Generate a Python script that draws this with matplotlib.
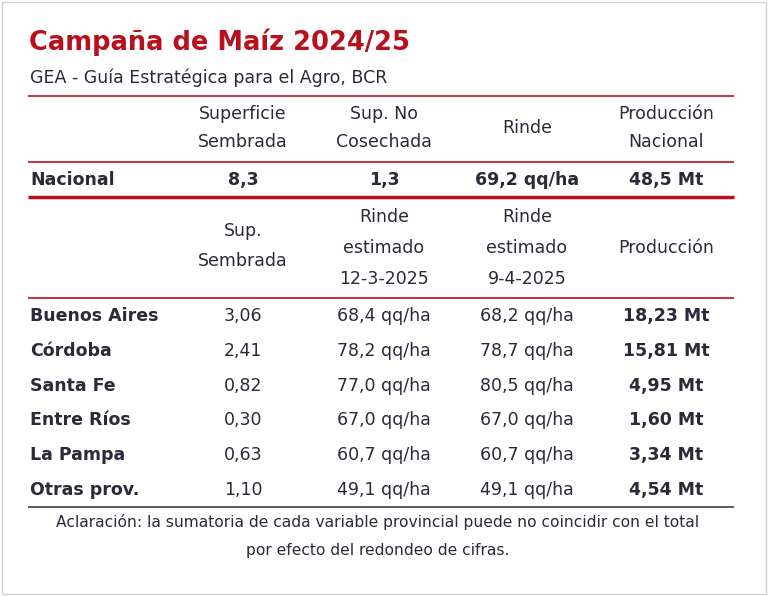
import matplotlib
matplotlib.use("Agg")
import matplotlib.pyplot as plt

title = "Campaña de Maíz 2024/25"
subtitle = "GEA - Guía Estratégica para el Agro, BCR"
nat_headers = ["Superficie\nSembrada", "Sup. No\nCosechada", "Rinde", "Producción\nNacional"]
nat_values = ["8,3", "1,3", "69,2 qq/ha", "48,5 Mt"]
prov_headers = ["Sup.\nSembrada", "Rinde\nestimado\n12-3-2025", "Rinde\nestimado\n9-4-2025", "Producción"]
provinces = ["Buenos Aires", "Córdoba", "Santa Fe", "Entre Ríos", "La Pampa", "Otras prov."]
sup_sembrada = ["3,06", "2,41", "0,82", "0,30", "0,63", "1,10"]
rinde_mar = ["68,4 qq/ha", "78,2 qq/ha", "77,0 qq/ha", "67,0 qq/ha", "60,7 qq/ha", "49,1 qq/ha"]
rinde_abr = ["68,2 qq/ha", "78,7 qq/ha", "80,5 qq/ha", "67,0 qq/ha", "60,7 qq/ha", "49,1 qq/ha"]
produccion = ["18,23 Mt", "15,81 Mt", "4,95 Mt", "1,60 Mt", "3,34 Mt", "4,54 Mt"]
note = "Aclaración: la sumatoria de cada variable provincial puede no coincidir con el total\npor efecto del redondeo de cifras."

RED = "#b8101c"
TXT = "#2a2a38"
fig = plt.figure(figsize=(7.68, 5.96), dpi=100)
ax = fig.add_axes([0, 0, 1, 1])
ax.set_xlim(0, 768); ax.set_ylim(596, 0); ax.axis("off")
ax.add_patch(plt.Rectangle((2, 2), 764, 592, fill=False, ec="#d0d0d0", lw=1))

ax.text(29, 42, title, color=RED, fontsize=18.5, fontweight="bold", va="center")
ax.text(30, 78, subtitle, color=TXT, fontsize=12.5, va="center")
X0, X1 = 28, 734
cols = [243, 384, 527, 666]
fs = 12.5
def hline(y, lw, c=RED):
    ax.plot([X0, X1], [y, y], color=c, lw=lw, solid_capstyle="butt")
hline(96, 1.2)
for x, h in zip(cols, nat_headers):
    ax.text(x, 128, h, ha="center", va="center", color=TXT, fontsize=fs, linespacing=1.7)
hline(162, 1.2)
ax.text(30, 180, "Nacional", ha="left", va="center", color=TXT, fontsize=fs, fontweight="bold")
for x, v in zip(cols, nat_values):
    ax.text(x, 180, v, ha="center", va="center", color=TXT, fontsize=fs, fontweight="bold")
hline(197, 2.5)
for x, h in zip(cols, prov_headers):
    ax.text(x, 248 if h.count("\n") != 1 else 246, h, ha="center", va="center", color=TXT, fontsize=fs, linespacing=1.9)
hline(298, 1.2)
for i, p in enumerate(provinces):
    y = 316 + i * 34.8
    ax.text(30, y, p, ha="left", va="center", color=TXT, fontsize=fs, fontweight="bold")
    ax.text(cols[0], y, sup_sembrada[i], ha="center", va="center", color=TXT, fontsize=fs)
    ax.text(cols[1], y, rinde_mar[i], ha="center", va="center", color=TXT, fontsize=fs)
    ax.text(cols[2], y, rinde_abr[i], ha="center", va="center", color=TXT, fontsize=fs)
    ax.text(cols[3], y, produccion[i], ha="center", va="center", color=TXT, fontsize=fs, fontweight="bold")
hline(507, 1.2, "#404040")
ax.text(378, 536, note, ha="center", va="center", color=TXT, fontsize=11.2, linespacing=2.1)
fig.savefig("out.png", dpi=100, facecolor="white")
